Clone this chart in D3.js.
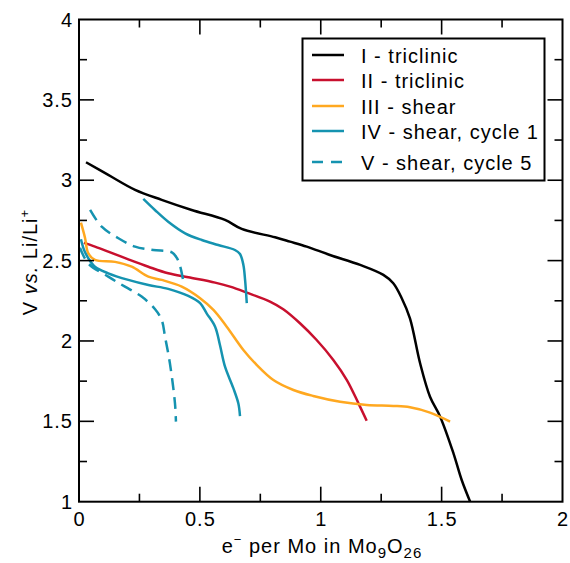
<!DOCTYPE html>
<html>
<head>
<meta charset="utf-8">
<script src="https://cdn.jsdelivr.net/npm/d3@7"></script>
<style>
body { margin: 0; background: #fff; }
svg text { font-family: "Liberation Sans", Arial, Helvetica, sans-serif; fill: #000; letter-spacing: 1px; }
</style>
</head>
<body>
<svg width="570" height="563"></svg>
<script>
// I - triclinic
const sI = [[0.029,3.112],[0.121,3.033],[0.232,2.94],[0.342,2.878],[0.466,2.815],[0.604,2.753],[0.673,2.697],
  [0.811,2.645],[0.873,2.618],[0.942,2.587],[1.038,2.535],[1.163,2.473],[1.259,2.411],[1.3,2.359],[1.335,2.266],
  [1.369,2.141],[1.411,1.861],[1.452,1.653],[1.494,1.529],[1.549,1.301],[1.583,1.135],[1.618,1.0]];
// II - triclinic
const sII = [[0.02,2.61],[0.066,2.587],[0.121,2.556],[0.204,2.508],[0.287,2.462],[0.369,2.421],[0.452,2.396],
  [0.563,2.363],[0.625,2.338],[0.694,2.301],[0.79,2.245],[0.845,2.197],[0.914,2.11],[0.983,2.006],[1.052,1.882],
  [1.108,1.757],[1.156,1.612],[1.19,1.504]];
// III - shear
const sIII = [[0.008,2.736],[0.025,2.641],[0.038,2.546],[0.066,2.504],[0.149,2.492],[0.218,2.462],[0.287,2.4],
  [0.342,2.38],[0.425,2.338],[0.501,2.266],[0.556,2.193],[0.611,2.089],[0.68,1.944],[0.735,1.851],[0.804,1.757],
  [0.887,1.695],[0.969,1.658],[1.08,1.622],[1.19,1.602],[1.3,1.596],[1.369,1.587],[1.452,1.554],[1.535,1.498]];
// IV - shear, cycle 1 (discharge, charge)
const sIVdis = [[0.008,2.633],[0.021,2.566],[0.038,2.516],[0.066,2.462],[0.121,2.421],[0.204,2.38],[0.287,2.348],
  [0.369,2.324],[0.452,2.28],[0.501,2.235],[0.528,2.172],[0.563,2.089],[0.583,1.975],[0.604,1.84],[0.638,1.708],
  [0.659,1.612],[0.666,1.533]];
const sIVch = [[0.266,2.884],[0.314,2.815],[0.369,2.742],[0.439,2.67],[0.508,2.628],[0.576,2.597],[0.645,2.566],
  [0.666,2.541],[0.68,2.473],[0.687,2.38],[0.694,2.235]];
// V - shear, cycle 5 (discharge, charge)
const sVdis = [[0.004,2.58],[0.038,2.483],[0.121,2.4],[0.19,2.338],[0.259,2.276],[0.314,2.199],[0.342,2.131],
  [0.356,2.025],[0.376,1.861],[0.397,1.612],[0.401,1.498]];
const sVch = [[0.046,2.815],[0.094,2.711],[0.163,2.639],[0.232,2.587],[0.307,2.566],[0.384,2.551],[0.405,2.516],
  [0.418,2.467],[0.432,2.369]];

const xTicks = [0, 0.5, 1, 1.5, 2];
const yTicks = [1, 1.5, 2, 2.5, 3, 3.5, 4];
const legendLabels = ["I - triclinic", "II - triclinic", "III - shear", "IV - shear, cycle 1", "V - shear, cycle 5"];
const colors = ["#000000", "#c8102e", "#ffa820", "#1593b0", "#1593b0"];

const svg = d3.select("svg");
const pLeft = 79, pRight = 562.5, pTop = 19.5, pBottom = 501.7;

const x = d3.scaleLinear().domain([0, 2]).range([pLeft, pRight]);
const y = d3.scaleLinear().domain([1, 4]).range([pBottom, pTop]);

const lineV = d3.line().x(d => x(d[0])).y(d => y(d[1])).curve(d3.curveCatmullRom.alpha(0.5));

const curves = [
  {data: sI, color: colors[0]},
  {data: sII, color: colors[1]},
  {data: sIII, color: colors[2]},
  {data: sIVdis, color: colors[3]},
  {data: sIVch, color: colors[3]},
  {data: sVdis, color: colors[4], dash: "12,7"},
  {data: sVch, color: colors[4], dash: "12,7"}
];

svg.append("g").selectAll("path")
  .data(curves)
  .enter().append("path")
  .attr("d", c => lineV(c.data))
  .attr("fill", "none")
  .attr("stroke", c => c.color)
  .attr("stroke-width", 2.5)
  .attr("stroke-dasharray", c => c.dash || null);

// inward ticks on all four sides
const minorX = d3.range(0.25, 2, 0.5);
const minorY = d3.range(1.25, 4, 0.5);

function ticksAll(g) {
  const majX = xTicks.slice(1, -1), majY = yTicks.slice(1, -1);
  [[majX, 15], [minorX, 8]].forEach(([vals, len]) => {
    g.append("g").selectAll("line").data(vals).enter().append("line")
      .attr("x1", d => x(d)).attr("x2", d => x(d)).attr("y1", pBottom).attr("y2", pBottom - len);
    g.append("g").selectAll("line").data(vals).enter().append("line")
      .attr("x1", d => x(d)).attr("x2", d => x(d)).attr("y1", pTop).attr("y2", pTop + len);
  });
  [[majY, 15], [minorY, 8]].forEach(([vals, len]) => {
    g.append("g").selectAll("line").data(vals).enter().append("line")
      .attr("y1", d => y(d)).attr("y2", d => y(d)).attr("x1", pLeft).attr("x2", pLeft + len);
    g.append("g").selectAll("line").data(vals).enter().append("line")
      .attr("y1", d => y(d)).attr("y2", d => y(d)).attr("x1", pRight).attr("x2", pRight - len);
  });
}

const axes = svg.append("g").attr("stroke", "#000").attr("stroke-width", 1.6);
ticksAll(axes);
svg.append("rect")
  .attr("x", pLeft).attr("y", pTop).attr("width", pRight - pLeft).attr("height", pBottom - pTop)
  .attr("fill", "none").attr("stroke", "#000").attr("stroke-width", 2);

// tick labels
svg.append("g").selectAll("text").data(xTicks).enter().append("text")
  .attr("x", d => x(d) + 0.5).attr("y", pBottom + 24)
  .attr("text-anchor", "middle").attr("font-size", 20)
  .text(d => d3.format("")(d));
svg.append("g").selectAll("text").data(yTicks).enter().append("text")
  .attr("x", pLeft - 6).attr("y", d => y(d) + 7)
  .attr("text-anchor", "end").attr("font-size", 20)
  .text(d => d3.format("")(d));

// x title
const xt = svg.append("text").attr("x", 322).attr("y", 553).attr("text-anchor", "middle").attr("font-size", 20);
xt.append("tspan").text("e");
xt.append("tspan").attr("dy", -9).attr("font-size", 13).text("\u2212");
xt.append("tspan").attr("dy", 9).text(" per Mo in Mo");
xt.append("tspan").attr("dy", 5).attr("font-size", 15).text("9");
xt.append("tspan").attr("dy", -5).text("O");
xt.append("tspan").attr("dy", 5).attr("font-size", 15).text("26");

// y title
const yt = svg.append("text").attr("transform", "translate(37,262) rotate(-90)")
  .attr("text-anchor", "middle").attr("font-size", 20);
yt.append("tspan").text("V ");
yt.append("tspan").attr("font-style", "italic").text("vs.");
yt.append("tspan").text(" Li/Li");
yt.append("tspan").attr("dy", -8).attr("font-size", 13).text("+");

// legend
const lg = svg.append("g");
lg.append("rect").attr("x", 302.5).attr("y", 38.5).attr("width", 242).attr("height", 142)
  .attr("fill", "#fff").attr("stroke", "#000").attr("stroke-width", 2);
const rowsY = [55, 80, 106, 131, 162];
const items = lg.selectAll("g.item").data(legendLabels).enter().append("g")
  .attr("transform", (d, i) => `translate(0,${rowsY[i]})`);
items.append("line").attr("x1", 312).attr("x2", 344).attr("y1", 0).attr("y2", 0)
  .attr("stroke", (d, i) => colors[i]).attr("stroke-width", 2.5)
  .attr("stroke-dasharray", (d, i) => i === 4 ? "11,8" : null);
items.append("text").attr("x", 361).attr("y", 7.5).attr("font-size", 20).text(d => d);
</script>
</body>
</html>
